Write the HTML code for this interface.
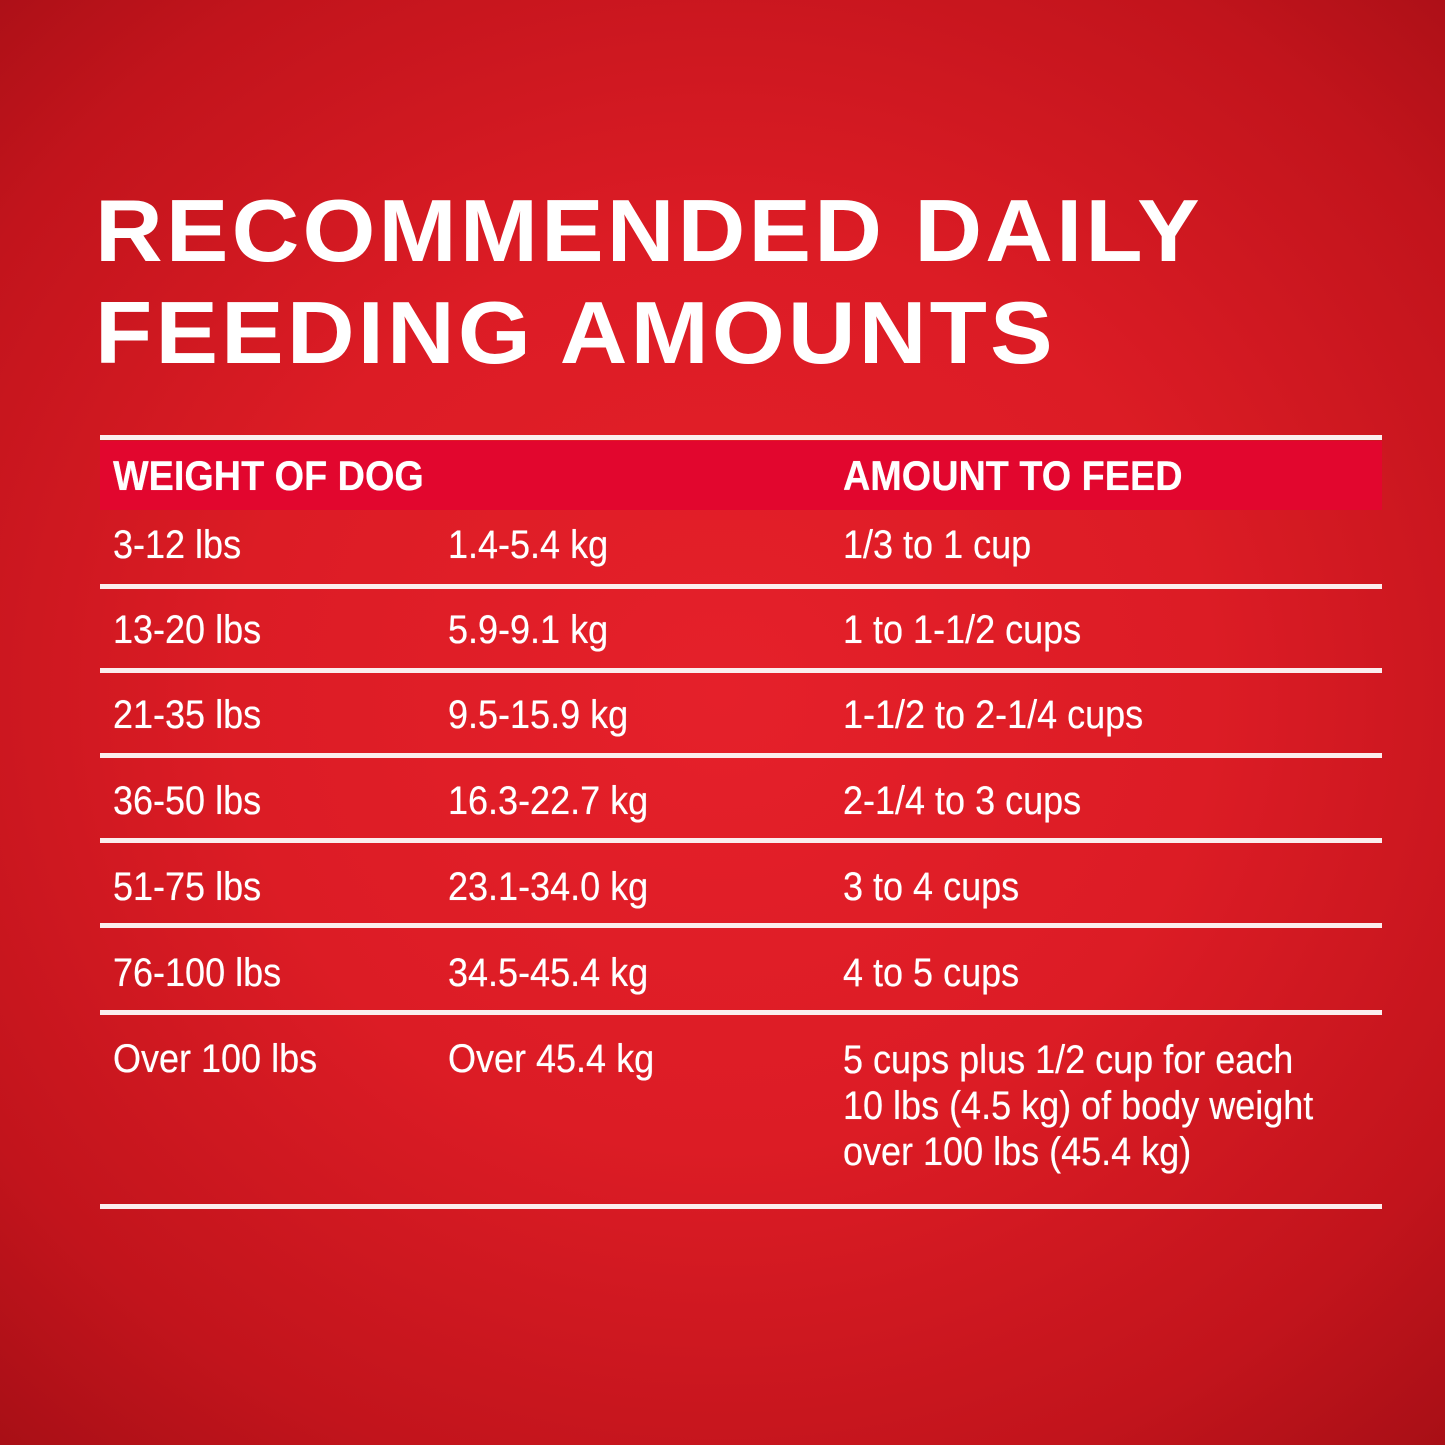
<!DOCTYPE html>
<html><head><style>
html,body{margin:0;padding:0}
body{width:1445px;height:1445px;position:relative;overflow:hidden;
background:radial-gradient(ellipse 75% 70% at 50% 48%,#e5202a 0%,#dc1c25 45%,#c2141c 80%,#a80f16 100%);
font-family:"Liberation Sans",sans-serif;color:#fff}
.title{position:absolute;left:95px;font-weight:bold;font-size:88px;letter-spacing:3px;white-space:nowrap;transform-origin:0 0;transform:scaleX(1.065)}
.hl{position:absolute;left:100px;width:1282px;height:5px;background:#fbeeee}
.band{position:absolute;left:100px;top:441px;width:1282px;height:69px;background:#e2062e}
.t{position:absolute;font-family:"Liberation Sans Narrow","Liberation Sans",sans-serif;white-space:nowrap;font-size:40px;transform-origin:0 0;transform:scaleX(0.9);text-shadow:0 0 0.6px #fff}
.h{font-weight:bold;font-size:42px}
</style></head><body>
<div class="title" style="top:180px">RECOMMENDED DAILY</div>
<div class="title" style="top:282px">FEEDING AMOUNTS</div>
<div class="hl" style="top:435px"></div>
<div class="band"></div>
<div class="t h" style="left:113px;top:452px">WEIGHT OF DOG</div>
<div class="t h" style="left:843px;top:452px">AMOUNT TO FEED</div>

<div class="t" style="left:113px;top:523px">3-12 lbs</div><div class="t" style="left:448px;top:523px">1.4-5.4 kg</div><div class="t" style="left:843px;top:523px">1/3 to 1 cup</div>
<div class="hl" style="top:584px"></div>
<div class="t" style="left:113px;top:608px">13-20 lbs</div><div class="t" style="left:448px;top:608px">5.9-9.1 kg</div><div class="t" style="left:843px;top:608px">1 to 1-1/2 cups</div>
<div class="hl" style="top:668px"></div>
<div class="t" style="left:113px;top:693px">21-35 lbs</div><div class="t" style="left:448px;top:693px">9.5-15.9 kg</div><div class="t" style="left:843px;top:693px">1-1/2 to 2-1/4 cups</div>
<div class="hl" style="top:753px"></div>
<div class="t" style="left:113px;top:779px">36-50 lbs</div><div class="t" style="left:448px;top:779px">16.3-22.7 kg</div><div class="t" style="left:843px;top:779px">2-1/4 to 3 cups</div>
<div class="hl" style="top:838px"></div>
<div class="t" style="left:113px;top:865px">51-75 lbs</div><div class="t" style="left:448px;top:865px">23.1-34.0 kg</div><div class="t" style="left:843px;top:865px">3 to 4 cups</div>
<div class="hl" style="top:923px"></div>
<div class="t" style="left:113px;top:951px">76-100 lbs</div><div class="t" style="left:448px;top:951px">34.5-45.4 kg</div><div class="t" style="left:843px;top:951px">4 to 5 cups</div>
<div class="hl" style="top:1010px"></div>
<div class="t" style="left:113px;top:1037px">Over 100 lbs</div><div class="t" style="left:448px;top:1037px">Over 45.4 kg</div>
<div class="t" style="left:843px;top:1037px;line-height:46px">5 cups plus 1/2 cup for each<br>10 lbs (4.5 kg) of body weight<br>over 100 lbs (45.4 kg)</div>
<div class="hl" style="top:1204px"></div>
</body></html>
